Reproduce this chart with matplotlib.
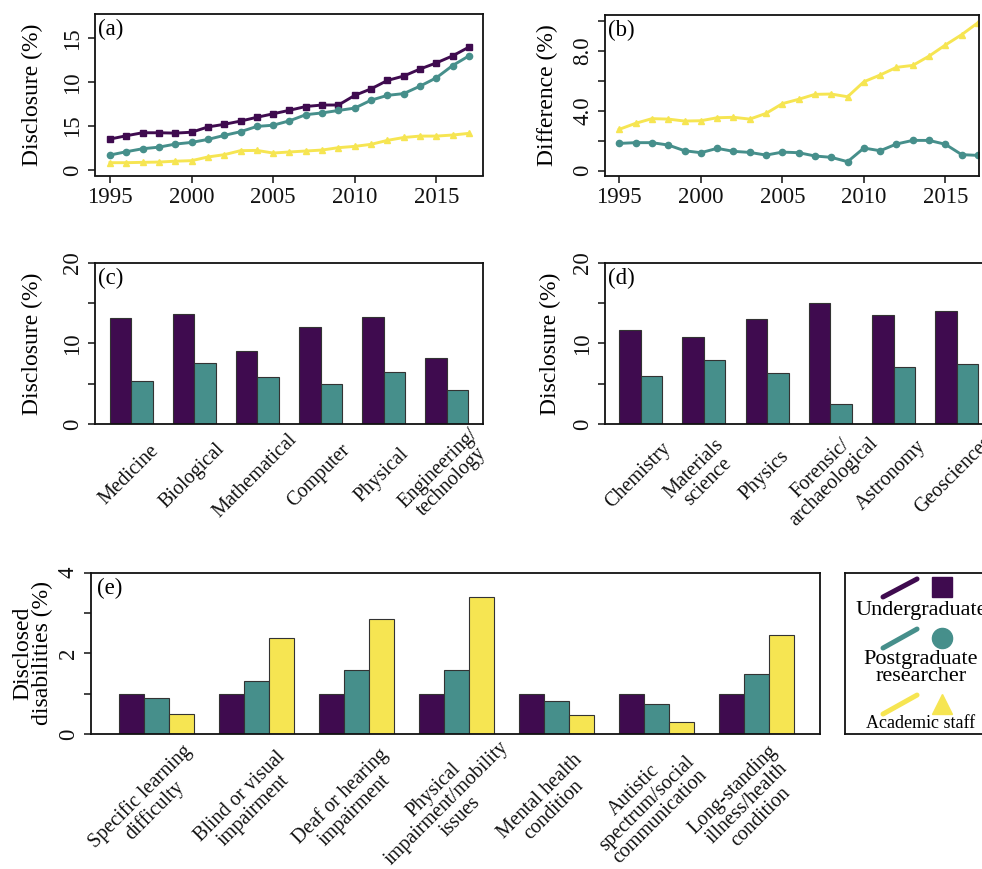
import matplotlib
matplotlib.use("Agg")
import matplotlib.pyplot as plt
import matplotlib.transforms as mtransforms
import numpy as np

plt.rcParams['font.family'] = ['Liberation Serif', 'DejaVu Serif']

# ---------------- data ----------------
years = list(range(1995, 2018))
ug_disc = [3.52, 3.9, 4.24, 4.24, 4.2, 4.3, 4.9, 5.2, 5.57, 6.0, 6.4, 6.8, 7.23,
           7.4, 7.4, 8.5, 9.24, 10.2, 10.7, 11.5, 12.2, 13.0, 14.0]
pg_disc = [1.7, 2.08, 2.42, 2.6, 2.95, 3.14, 3.48, 3.94, 4.36, 4.96, 5.1, 5.6, 6.3,
           6.5, 6.78, 7.05, 7.95, 8.5, 8.7, 9.55, 10.5, 11.9, 13.0]
ac_disc = [0.83, 0.83, 0.87, 0.9, 1.0, 1.06, 1.48, 1.74, 2.2, 2.23, 1.93, 2.05, 2.16,
           2.27, 2.54, 2.69, 2.92, 3.37, 3.7, 3.86, 3.86, 3.98, 4.17]

pg_diff = [1.82, 1.87, 1.87, 1.71, 1.33, 1.2, 1.49, 1.29, 1.22, 1.04, 1.24, 1.2, 0.98,
           0.89, 0.6, 1.51, 1.33, 1.78, 2.02, 2.02, 1.76, 1.07, 1.02]
ac_diff = [2.76, 3.16, 3.47, 3.44, 3.31, 3.33, 3.53, 3.56, 3.44, 3.82, 4.47, 4.76, 5.09,
           5.11, 4.93, 5.93, 6.38, 6.89, 7.02, 7.64, 8.38, 9.07, 9.87]

a_yticks = [0, 5, 10, 15]
a_yticklabels = ["0", "15", "10", "15"]
b_yticks = [0, 2, 4, 6, 8, 10]
b_yticklabels = ["0", "", "4.0", "", "8.0", ""]
x_years_ticks = [1995, 2000, 2005, 2010, 2015]

c_cats = ["Medicine", "Biological", "Mathematical", "Computer", "Physical",
          "Engineering/\ntechnology"]
c_ug = [13.14, 13.6, 9.05, 12.07, 13.3, 8.22]
c_pg = [5.33, 7.52, 5.79, 5.0, 6.4, 4.21]

d_cats = ["Chemistry", "Materials\nscience", "Physics", "Forensic/\narchaeological",
          "Astronomy", "Geosciences"]
d_ug = [11.65, 10.74, 12.98, 14.96, 13.47, 13.97]
d_pg = [5.91, 7.89, 6.28, 2.48, 7.02, 7.4]

cd_yticks = [0, 5, 10, 15, 20]
cd_yticklabels = ["0", "", "10", "", "20"]

e_cats = ["Specific learning\ndifficulty", "Blind or visual\nimpairment",
          "Deaf or hearing\nimpairment", "Physical\nimpairment/mobility\nissues",
          "Mental health\ncondition", "Autistic\nspectrum/social\ncommunication",
          "Long-standing\nillness/health\ncondition"]
e_ug = [1.0, 1.0, 1.0, 1.0, 1.0, 1.0, 1.0]
e_pg = [0.89, 1.32, 1.59, 1.59, 0.82, 0.74, 1.50]
e_ac = [0.5, 2.39, 2.84, 3.40, 0.46, 0.29, 2.45]
e_yticks = [0, 1, 2, 3, 4]
e_yticklabels = ["0", "", "2", "", "4"]

legend_labels = ["Undergraduate", "Postgraduate\nresearcher", "Academic staff"]

C_UG = "#3f0b4f"
C_PG = "#468f8b"
C_AC = "#f6e552"
EDGE = "#333333"

# ---------------- layout ----------------
W, H = 982, 869
fig = plt.figure(figsize=(W / 100, H / 100), dpi=100)


def pos(l, r, t, b):
    return [l / W, 1 - b / H, (r - l) / W, (b - t) / H]


TICK_FS = 16.5
LAB_FS = 17
XLAB_FS = 14.5


def style(ax):
    for s in ax.spines.values():
        s.set_linewidth(1.3)
        s.set_color("#111111")
    ax.tick_params(axis='both', direction='out', length=5, width=1.1,
                   labelsize=TICK_FS, colors="#111111")
    for t in ax.get_yticklabels():
        t.set_rotation(90)
        t.set_va('center')


def panel_label(ax, s):
    ax.text(0.008, 0.97, s, transform=ax.transAxes, ha='left', va='top',
            fontsize=TICK_FS)


# (a)
ax_a = fig.add_axes(pos(95, 483, 14, 175.5))
ax_a.plot(years, ug_disc, color=C_UG, lw=2.1, marker='s', ms=4.5)
ax_a.plot(years, pg_disc, color=C_PG, lw=2.1, marker='o', ms=4.5)
ax_a.plot(years, ac_disc, color=C_AC, lw=2.1, marker='^', ms=5)
ax_a.set_xlim(1994.08, 2017.86)
ax_a.set_ylim(-0.63, 17.77)
ax_a.set_xticks(x_years_ticks)
ax_a.set_yticks(a_yticks)
ax_a.set_yticklabels(a_yticklabels)
ax_a.set_ylabel("Disclosure (%)", fontsize=LAB_FS)
style(ax_a)
ax_a.yaxis.set_label_coords(-0.134, 0.5)
panel_label(ax_a, "(a)")

# (b)
ax_b = fig.add_axes(pos(605, 978.5, 14.7, 175.5))
ax_b.plot(years, ac_diff, color=C_AC, lw=2.1, marker='^', ms=5)
ax_b.plot(years, pg_diff, color=C_PG, lw=2.1, marker='o', ms=4.5)
ax_b.set_xlim(1994.12, 2017.03)
ax_b.set_ylim(-0.32, 10.4)
ax_b.set_xticks(x_years_ticks)
ax_b.set_yticks(b_yticks)
ax_b.set_yticklabels(b_yticklabels)
ax_b.set_ylabel("Difference (%)", fontsize=LAB_FS)
style(ax_b)
ax_b.yaxis.set_label_coords(-0.126, 0.5)
panel_label(ax_b, "(b)")


def bar_panel(ax, cats, series, colors, width, xlim, yticks, yticklabels, ylim,
              pad, dx):
    x = np.arange(len(cats))
    n = len(series)
    for i, (vals, col) in enumerate(zip(series, colors)):
        off = (i - (n - 1) / 2) * width
        ax.bar(x + off, vals, width=width, color=col, edgecolor=EDGE, linewidth=0.8)
    ax.set_xlim(*xlim)
    ax.set_ylim(*ylim)
    ax.set_xticks(x)
    ax.set_xticklabels(cats, rotation=45, ha='center', va='center',
                       multialignment='center', linespacing=1.0)
    ax.set_yticks(yticks)
    ax.set_yticklabels(yticklabels)
    style(ax)
    ax.tick_params(axis='x', length=0, pad=pad, labelsize=XLAB_FS)
    off_t = mtransforms.ScaledTranslation(dx / 100, 0, fig.dpi_scale_trans)
    for lab in ax.get_xticklabels():
        lab.set_transform(lab.get_transform() + off_t)


# (c)
ax_c = fig.add_axes(pos(95, 483, 262.7, 424))
bar_panel(ax_c, c_cats, [c_ug, c_pg], [C_UG, C_PG], 0.34, (-0.57, 5.57),
          cd_yticks, cd_yticklabels, (0, 20), 37, -2)
ax_c.set_ylabel("Disclosure (%)", fontsize=LAB_FS)
ax_c.yaxis.set_label_coords(-0.134, 0.5)
panel_label(ax_c, "(c)")

# (d)
ax_d = fig.add_axes(pos(605.3, 993, 262.7, 424))
bar_panel(ax_d, d_cats, [d_ug, d_pg], [C_UG, C_PG], 0.34, (-0.56, 5.57),
          cd_yticks, cd_yticklabels, (0, 20), 37, -3)
ax_d.set_ylabel("Disclosure (%)", fontsize=LAB_FS)
ax_d.yaxis.set_label_coords(-0.114, 0.5)
panel_label(ax_d, "(d)")

# (e)
ax_e = fig.add_axes(pos(90.7, 820, 572.7, 734))
bar_panel(ax_e, e_cats, [e_ug, e_pg, e_ac], [C_UG, C_PG, C_AC], 0.25, (-0.655, 6.64),
          e_yticks, e_yticklabels, (0, 4), 50, -9)
ax_e.set_ylabel("Disclosed\ndisabilities (%)", fontsize=LAB_FS, linespacing=0.95)
ax_e.yaxis.set_label_coords(-0.051, 0.5)
panel_label(ax_e, "(e)")

# legend box
ax_l = fig.add_axes(pos(845, 997, 573, 734))
ax_l.set_xlim(0, 1)
ax_l.set_ylim(0, 1)
ax_l.set_xticks([])
ax_l.set_yticks([])
for s in ax_l.spines.values():
    s.set_linewidth(1.3)
    s.set_color("#111111")

leg_rows = [
    (C_UG, 's', 0.851, 0.963, 0.913, 0.764, 16),
    (C_PG, 'o', 0.534, 0.652, 0.596, 0.41, 16),
    (C_AC, '^', 0.124, 0.242, 0.186, 0.068, 13),
]
for (col, mk, y0, y1, ym, yt, fs), lab in zip(leg_rows, legend_labels):
    ax_l.plot([0.25, 0.474], [y0, y1], color=col, lw=3.6, solid_capstyle='round')
    ax_l.plot([0.638], [ym], marker=mk, color=col, ms=14.5, ls='none')
    ax_l.text(0.5, yt, lab, ha='center', va='center', fontsize=fs,
              linespacing=0.85, multialignment='center')

fig.savefig("out.png", dpi=100)
